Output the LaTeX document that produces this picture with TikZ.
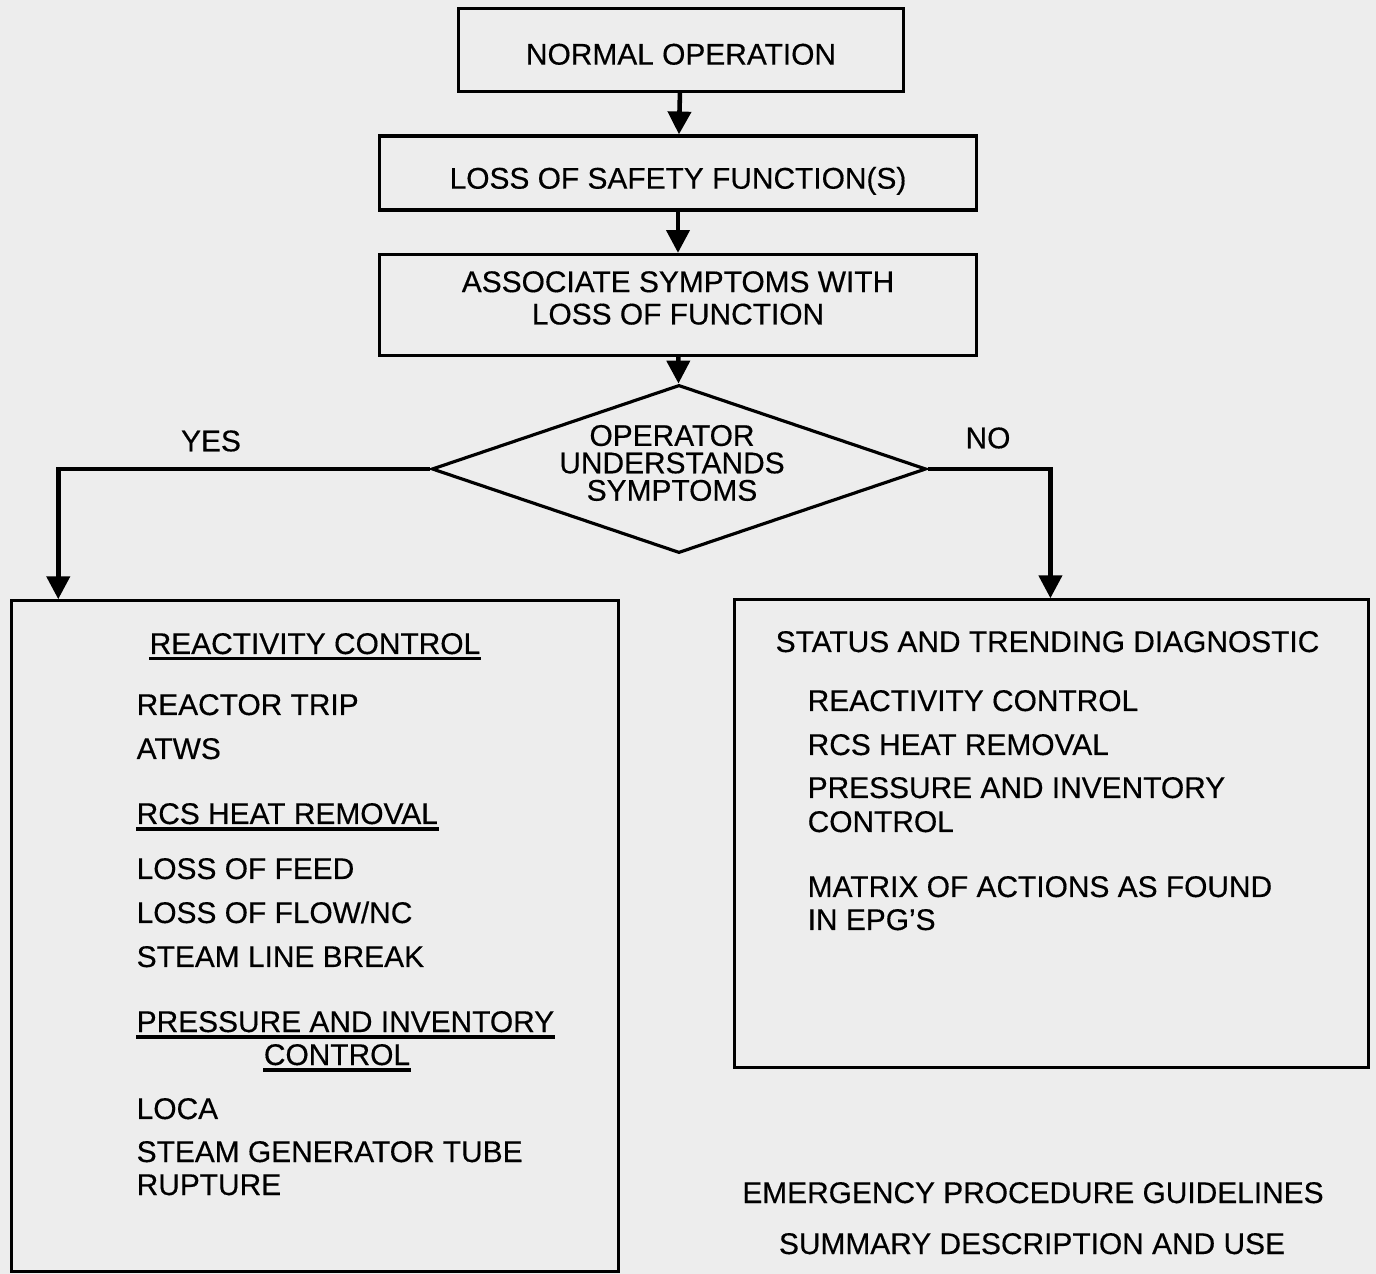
\documentclass[tikz,border=0pt]{standalone}
\usepackage{fontspec}
\setmainfont{Liberation Sans}[FakeBold=0.4]
\usetikzlibrary{arrows.meta,shapes.geometric}

\begin{document}
\begin{tikzpicture}[x=0.01cm,y=-0.01cm,
  every node/.style={font=\fontsize{8.5}{9.2}\selectfont},
  box/.style={draw,line width=0.9pt,inner sep=0pt},
  flow/.style={line width=1.3pt,-{Triangle[width=6.5pt,length=6.5pt]}},
  item/.style={anchor=base west,inner sep=0pt},
  uline/.style={line width=0.9pt}]
\useasboundingbox[fill=black!7] (0,0) rectangle (1376,1274);
% top chain
\node[box,minimum width=4.44cm,minimum height=0.83cm,text height=8.3pt,text depth=0pt] (normal) at (681,50) {NORMAL OPERATION};
\node[box,minimum width=5.96cm,minimum height=0.74cm,text height=8.9pt,text depth=0pt] (lossfn) at (678,173) {LOSS OF SAFETY FUNCTION(S)};
\node[box,minimum width=5.96cm,minimum height=1.01cm] (assoc) at (678,305) {};
\node[align=center,inner sep=0pt] (assoctxt) at (678,298) {ASSOCIATE SYMPTOMS WITH\\LOSS OF FUNCTION};
\node[draw,line width=0.9pt,shape=diamond,aspect=2.94,inner sep=0pt,minimum width=4.94cm,minimum height=1.68cm] (oper) at (679,469) {};
\node[align=center,inner sep=0pt,font=\fontsize{8.5}{7.8}\selectfont] (opertxt) at (672,463) {OPERATOR\\UNDERSTANDS\\SYMPTOMS};
% result boxes
\node[box,minimum width=6.06cm,minimum height=6.70cm] (known) at (315,936) {};
\node[box,minimum width=6.33cm,minimum height=4.67cm] (diag) at (1051.5,833.5) {};
\draw[flow] (normal) -- (lossfn);
\draw[flow] (lossfn) -- (assoc);
\draw[flow] (assoc) -- (oper);
\draw[flow] (oper.west) -| ([xshift=0.48cm]known.north west);
\draw[flow] (oper.east) -| ([xshift=3.17cm]diag.north west);
\node (yes) at (211,441) {YES};
\node (no) at (988,438) {NO};
% left box contents
\node[item] (h1) at (149,654) {REACTIVITY CONTROL};
\node[item] (a1) at (136,715) {REACTOR TRIP};
\node[item] (a2) at (136,759) {ATWS};
\node[item] (h2) at (136,824) {RCS HEAT REMOVAL};
\node[item] (b1) at (136,879) {LOSS OF FEED};
\node[item] (b2) at (136,923) {LOSS OF FLOW/NC};
\node[item] (b3) at (136,967) {STEAM LINE BREAK};
\node[item] (h3) at (136,1032) {PRESSURE AND INVENTORY};
\node[item,anchor=base] (h3b) at (337,1065) {CONTROL};
\node[item] (c1) at (136,1119) {LOCA};
\node[item] (c2) at (136,1162) {STEAM GENERATOR TUBE};
\node[item] (c3) at (136,1195) {RUPTURE};
\foreach \h in {h1,h2,h3,h3b}
  \draw[uline] ([yshift=-1.4pt]\h.base west) -- ([yshift=-1.4pt]\h.base east);
% right box contents
\node[item] (s0) at (775,652) {STATUS AND TRENDING DIAGNOSTIC};
\node[item] (s1) at (807,711) {REACTIVITY CONTROL};
\node[item] (s2) at (807,755) {RCS HEAT REMOVAL};
\node[item] (s3) at (807,798) {PRESSURE AND INVENTORY};
\node[item] (s3b) at (807,832) {CONTROL};
\node[item] (s4) at (807,897) {MATRIX OF ACTIONS AS FOUND};
\node[item] (s4b) at (807,930) {IN EPG'S};
% caption
\node[item,anchor=base] (cap1) at (1033,1203) {EMERGENCY PROCEDURE GUIDELINES};
\node[item,anchor=base] (cap2) at (1032,1254) {SUMMARY DESCRIPTION AND USE};
\end{tikzpicture}
\end{document}
